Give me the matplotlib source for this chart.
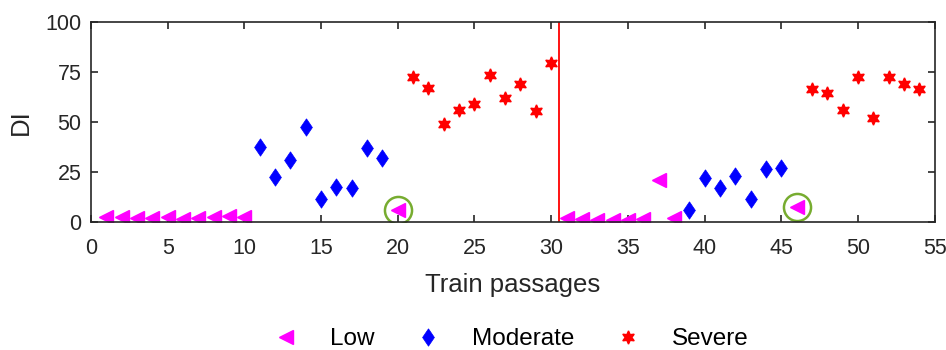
import matplotlib.pyplot as plt
import numpy as np

plt.rcParams['font.family'] = ['Liberation Sans', 'DejaVu Sans']

# data
low_x = [1, 2, 3, 4, 5, 6, 7, 8, 9, 10, 20, 31, 32, 33, 34, 35, 36, 37, 38, 46]
low_y = [2.5, 2.3, 2, 2, 2.3, 1.3, 2, 2.2, 3, 2.5, 5.8, 2, 1.5, 1, 1, 1, 1.5, 20.8, 1.7, 7.2]

mod_x = [11, 12, 13, 14, 15, 16, 17, 18, 19, 39, 40, 41, 42, 43, 44, 45]
mod_y = [37.5, 22.5, 30.8, 47.2, 11.2, 17.5, 16.7, 36.7, 31.7,
         5.8, 22, 16.7, 22.8, 11.2, 26.3, 26.7]

sev_x = [21, 22, 23, 24, 25, 26, 27, 28, 29, 30, 47, 48, 49, 50, 51, 52, 53, 54]
sev_y = [72.5, 67, 48.7, 55.8, 58.7, 73.3, 61.7, 68.8, 55.3, 79.2,
         66.2, 64.2, 55.8, 72.5, 51.7, 72.5, 68.8, 66.3]

circled_x = [20, 46]
circled_y = [5.8, 7.2]
split_x = 30.5

# MATLAB-like diamond (taller than wide)
diamond = [(0, 1), (0.68, 0), (0, -1), (-0.68, 0), (0, 1)]

fig = plt.figure(figsize=(9.46, 3.5), dpi=100)
ax = fig.add_axes([0.0962, 0.3666, 0.8918, 0.571])

ax.plot(low_x, low_y, linestyle='none', marker='<', color='#FF00FF', markersize=10, label='Low')
ax.plot(mod_x, mod_y, linestyle='none', marker=diamond, color='#0000FF', markersize=12.5,
        markeredgewidth=0.5, label='Moderate')
ax.plot(sev_x, sev_y, linestyle='none', marker=(6, 1, 0), color='#FF0000', markersize=9.5, label='Severe')

ax.plot(circled_x, circled_y, linestyle='none', marker='o', markersize=19.5,
        markerfacecolor='none', markeredgecolor='#77AC30', markeredgewidth=1.8)
ax.axvline(split_x, color='#FF0000', linewidth=1.3)

ax.set_xlim(0, 55)
ax.set_ylim(0, 100)
ax.set_xticks(np.arange(0, 56, 5))
ax.set_yticks([0, 25, 50, 75, 100])
ax.tick_params(direction='in', top=True, right=True, labelsize=15.5, length=5,
               width=1.2, color='#262626', labelcolor='#262626')
ax.tick_params(axis='x', pad=12)
ax.tick_params(axis='y', pad=7)
for s in ax.spines.values():
    s.set_color('#262626')
    s.set_linewidth(1.2)

ax.set_xlabel('Train passages', fontsize=18.5, color='#262626', labelpad=10)
ax.set_ylabel('DI', fontsize=18.5, color='#262626', labelpad=9)

fig.legend(loc='center', bbox_to_anchor=(0.534, 0.031), ncol=3, frameon=False,
           fontsize=17.5, handlelength=2, handletextpad=0.82, columnspacing=1.2,
           borderpad=0.2)

fig.savefig('out.png', dpi=100)
